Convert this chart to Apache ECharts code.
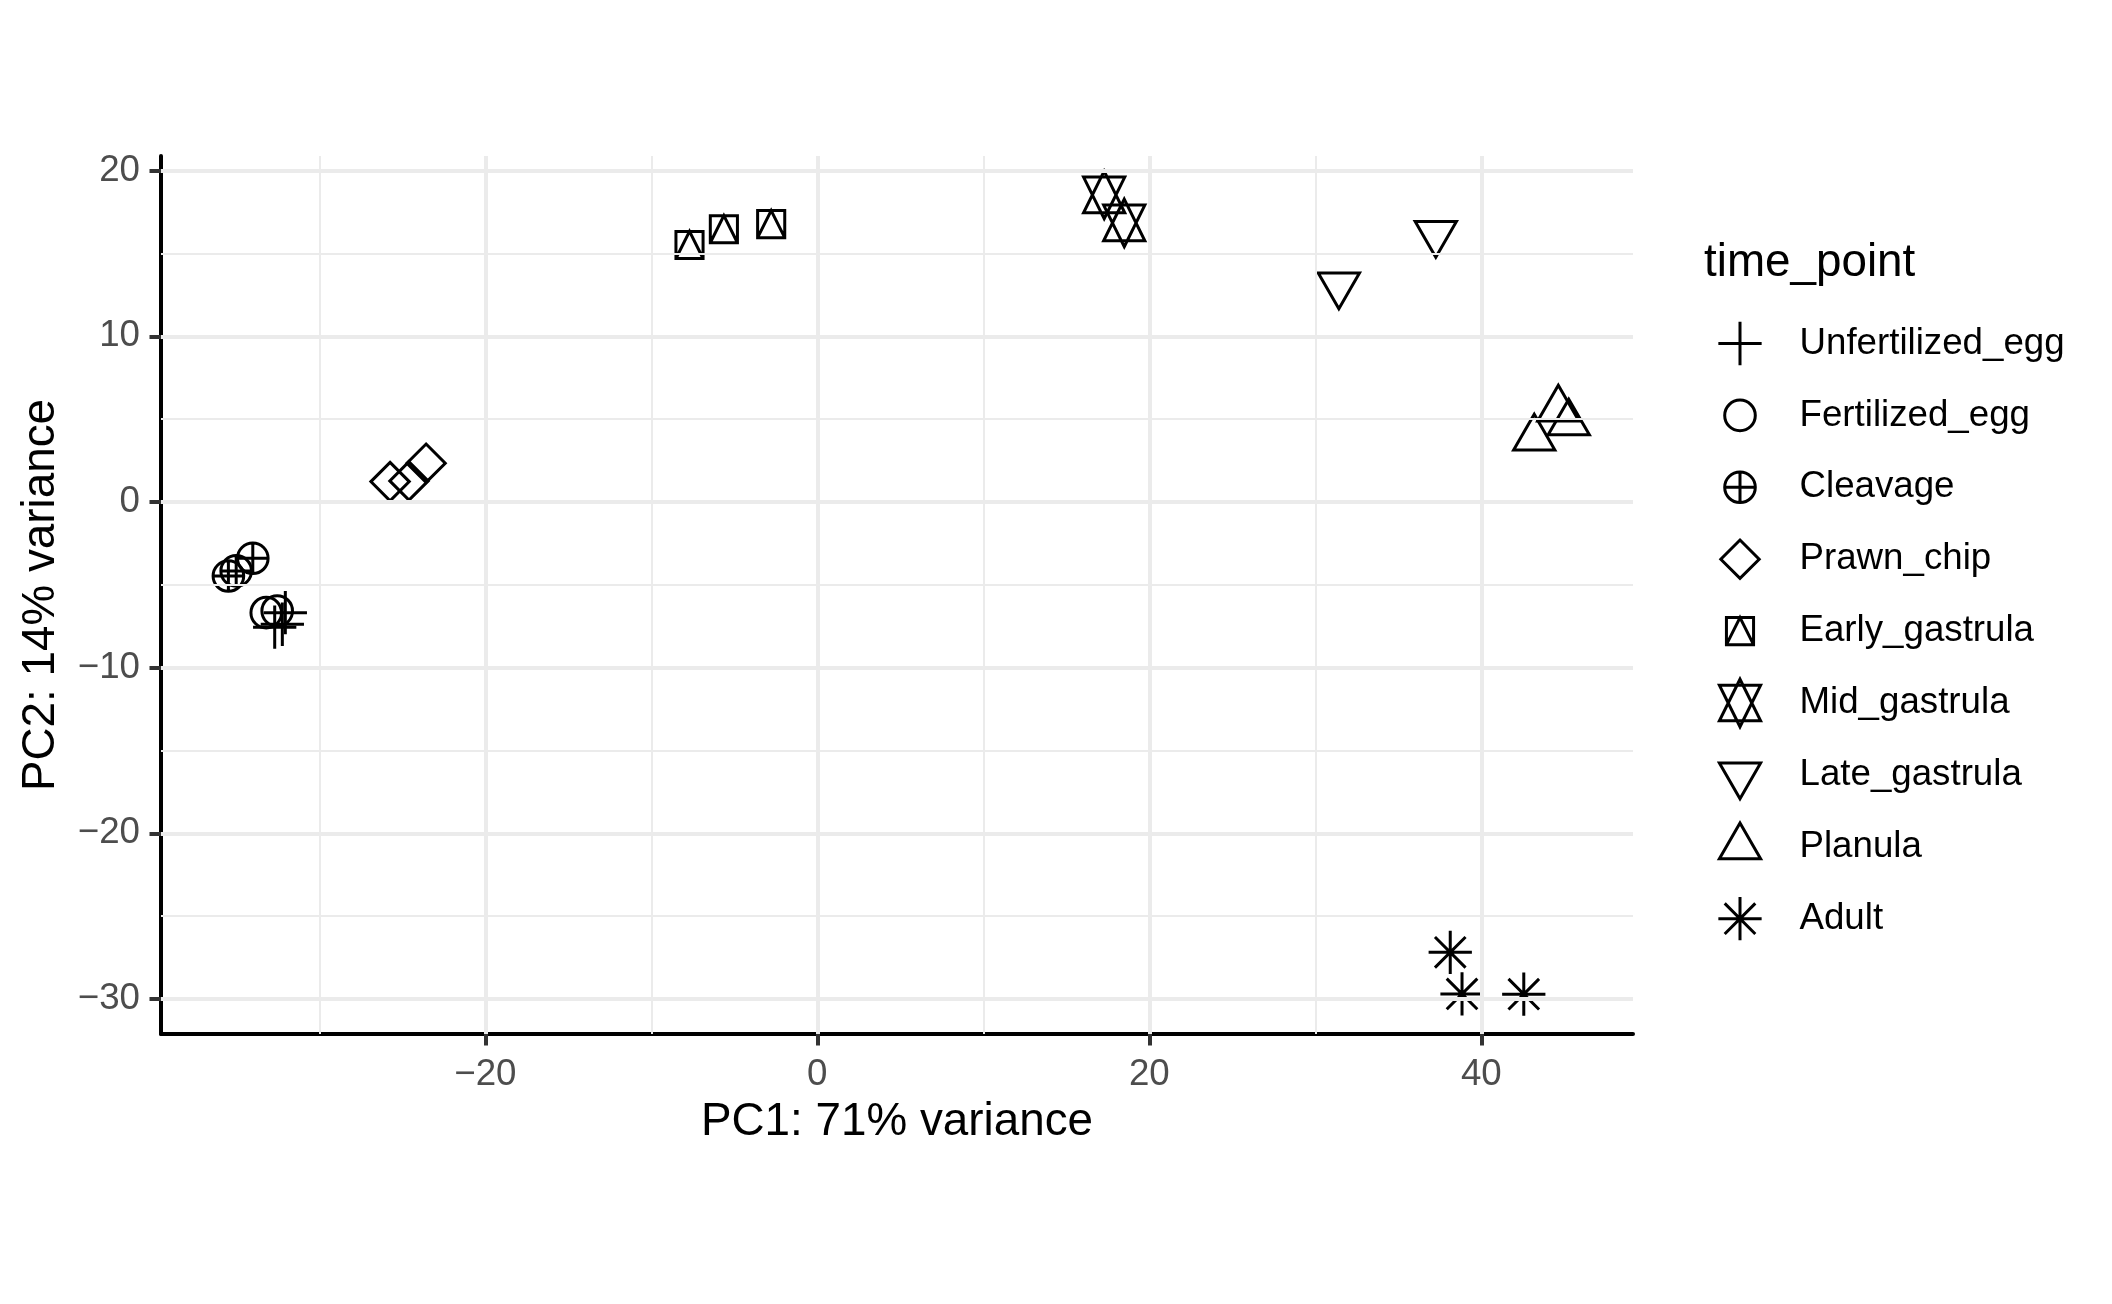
<!DOCTYPE html>
<html>
<head>
<meta charset="utf-8">
<script src="https://cdn.jsdelivr.net/npm/echarts@6/dist/echarts.min.js"></script>
<style>
html,body{margin:0;padding:0;background:#fff;}
#chart{width:2112px;height:1304px;}
</style>
</head>
<body>
<div id="chart"></div>
<script>
// ---- data ----
const timePoints = ['Unfertilized_egg','Fertilized_egg','Cleavage','Prawn_chip','Early_gastrula','Mid_gastrula','Late_gastrula','Planula','Adult'];
const unfertilized_egg = [[-32.05,-6.68],[-32.69,-7.56],[-32.23,-7.38]];
const fertilized_egg   = [[-33.20,-6.68],[-32.54,-6.58]];
const cleavage         = [[-34.01,-3.40],[-35.01,-4.16],[-35.48,-4.47]];
const prawn_chip       = [[-25.74,1.23],[-24.60,1.27],[-23.57,2.34]];
const early_gastrula   = [[-7.70,15.51],[-5.63,16.46],[-2.78,16.77]];
const mid_gastrula     = [[17.28,18.53],[18.49,16.84]];
const late_gastrula    = [[37.26,16.21],[31.42,13.10]];
const planula          = [[44.64,5.61],[45.27,4.77],[43.19,3.86]];
const adult            = [[38.13,-27.18],[38.84,-29.69],[42.56,-29.71]];
const groupData = [unfertilized_egg,fertilized_egg,cleavage,prawn_chip,early_gastrula,mid_gastrula,late_gastrula,planula,adult];

const xTickLabels = [-20,0,20,40];
const yTickLabels = [-30,-20,-10,0,10,20];
const xMajorGrid = [-20,0,20,40];
const xMinorGrid = [-30,-10,10,30];
const yMajorGrid = [-30,-20,-10,0,10,20];
const yMinorGrid = [-25,-15,-5,5,15];

// ---- shapes (R pch 3,1,10,5,14,11,6,2,8) ----
const F = 'M -25 -25 M 25 25 ';
const circ = 'M 15.3 0 A 15.3 15.3 0 1 1 -15.3 0 A 15.3 15.3 0 1 1 15.3 0 Z ';
const shapes = [
  F + 'M -21.64 0 L 21.64 0 M 0 -21.64 L 0 21.64',
  F + circ,
  F + circ + 'M -15.3 0 L 15.3 0 M 0 -15.3 L 0 15.3',
  F + 'M 0 -19.18 L 19.18 0 L 0 19.18 L -19.18 0 Z',
  F + 'M -13.56 -13.56 L 13.56 -13.56 L 13.56 13.56 L -13.56 13.56 Z M -13.56 13.56 L 0 -13.56 L 13.56 13.56',
  F + 'M 0 -23.79 L 20.61 17.85 L -20.61 17.85 Z M 0 23.79 L 20.61 -17.85 L -20.61 -17.85 Z',
  F + 'M 0 23.79 L 20.61 -11.9 L -20.61 -11.9 Z',
  F + 'M 0 -23.79 L 20.61 11.9 L -20.61 11.9 Z',
  F + 'M -15.3 -15.3 L 15.3 15.3 M -15.3 15.3 L 15.3 -15.3 M -21.64 0 L 21.64 0 M 0 -21.64 L 0 21.64'
].map(s => 'path://' + s);

const FONT = '"Liberation Sans", Arial, Helvetica, sans-serif';
const fmt = v => (v < 0 ? '\u2212' + Math.abs(v) : String(v));

const series = [{
  type: 'line', data: [], silent: true, z: 0,
  markLine: {
    silent: true, symbol: ['none','none'], label: {show:false}, animation:false,
    data: [
      ...xMinorGrid.map(v => ({xAxis: v, lineStyle:{color:'#EBEBEB', width:2, type:'solid'}})),
      ...yMinorGrid.map(v => ({yAxis: v, lineStyle:{color:'#EBEBEB', width:2, type:'solid'}})),
      ...xMajorGrid.map(v => ({xAxis: v, lineStyle:{color:'#EBEBEB', width:4, type:'solid'}})),
      ...yMajorGrid.map(v => ({yAxis: v, lineStyle:{color:'#EBEBEB', width:4, type:'solid'}}))
    ]
  }
}];
timePoints.forEach((name, i) => {
  series.push({
    type: 'scatter', name: name, data: groupData[i], z: 3,
    symbol: shapes[i], symbolSize: 50,
    itemStyle: {color: 'rgba(0,0,0,0)', borderColor: '#000', borderWidth: 3, opacity: 1},
    emphasis: {disabled: true}
  });
});

const chart = echarts.init(document.getElementById('chart'), null, {renderer: 'canvas'});
chart.setOption({
  animation: false,
  backgroundColor: '#fff',
  textStyle: {fontFamily: FONT},
  grid: {left: 161, top: 156, width: 1472, height: 878, containLabel: false},
  title: {
    text: 'time_point', left: 1699, top: 235,
    textStyle: {fontFamily: FONT, fontSize: 45.8, fontWeight: 'normal', color: '#000'}
  },
  legend: {
    orient: 'vertical', left: 1708.5, top: 312,
    itemWidth: 109, itemHeight: 50, itemGap: 18.9,
    data: timePoints.map((n, i) => ({name: n, icon: shapes[i]})),
    itemStyle: {color: 'rgba(0,0,0,0)', borderColor: '#000', borderWidth: 3},
    textStyle: {fontFamily: FONT, fontSize: 36.7, color: '#000'},
    selectedMode: false
  },
  xAxis: {
    type: 'value', min: -39.54, max: 49.14,
    name: 'PC1: 71% variance', nameLocation: 'middle', nameGap: 65,
    nameTextStyle: {fontFamily: FONT, fontSize: 45.8, color: '#000'},
    axisLine: {show: true, onZero: false, lineStyle: {color: '#000', width: 4}},
    axisTick: {show: true, length: 11.5, customValues: xTickLabels, lineStyle: {color: '#333333', width: 4}},
    axisLabel: {show: true, margin: 22, customValues: xTickLabels, formatter: fmt,
      fontFamily: FONT, fontSize: 36.7, color: '#4D4D4D'},
    splitLine: {show: false}
  },
  yAxis: {
    type: 'value', min: -32.11, max: 20.88,
    name: 'PC2: 14% variance', nameLocation: 'middle', nameGap: 97,
    nameTextStyle: {fontFamily: FONT, fontSize: 45.8, color: '#000'},
    axisLine: {show: true, onZero: false, lineStyle: {color: '#000', width: 4}},
    axisTick: {show: true, length: 11.5, customValues: yTickLabels, lineStyle: {color: '#333333', width: 4}},
    axisLabel: {show: true, margin: 21, customValues: yTickLabels, formatter: fmt,
      fontFamily: FONT, fontSize: 36.7, color: '#4D4D4D'},
    splitLine: {show: false}
  },
  series: series
});
</script>
</body>
</html>
